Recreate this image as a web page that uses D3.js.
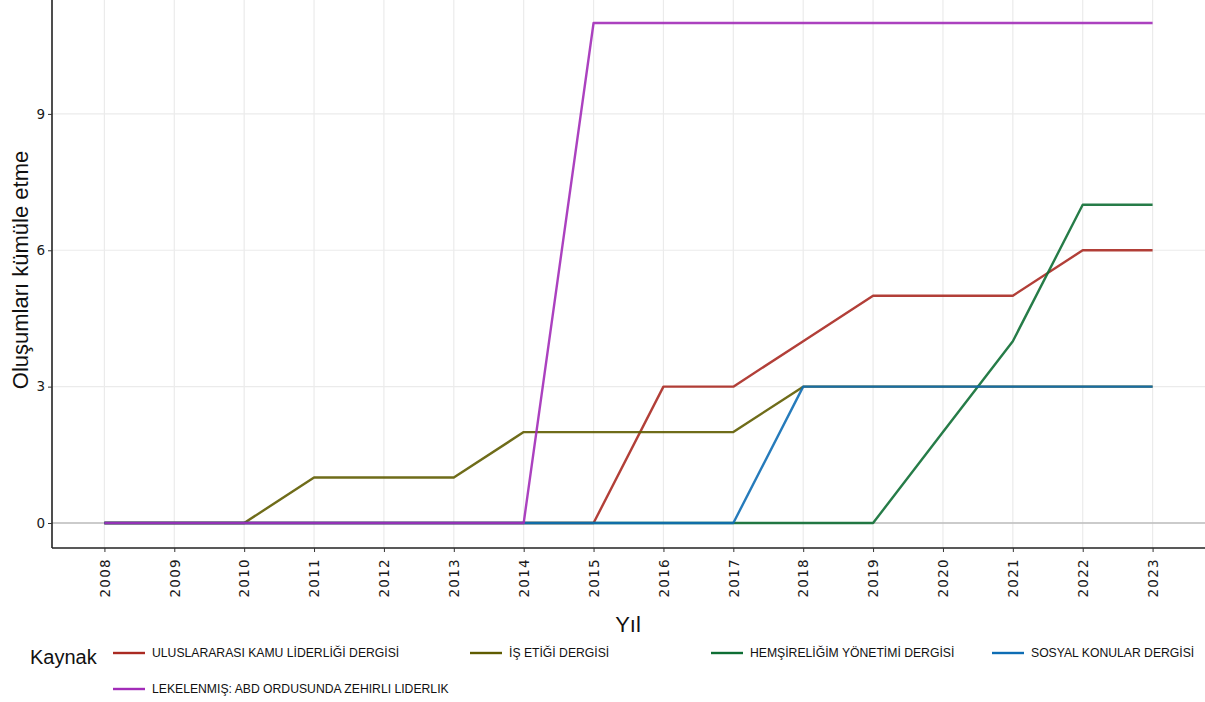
<!DOCTYPE html>
<html><head><meta charset="utf-8">
<script src="https://cdn.jsdelivr.net/npm/d3@7"></script>
<style>body{margin:0;background:#fff}svg{display:block}</style>
</head><body>
<svg id="c" width="1205" height="702"></svg>
<script>
const years = [2008,2009,2010,2011,2012,2013,2014,2015,2016,2017,2018,2019,2020,2021,2022,2023];
const seriesNames = [
  "ULUSLARARASI KAMU LİDERLİĞİ DERGİSİ",
  "İŞ ETİĞİ DERGİSİ",
  "HEMŞİRELİĞİM YÖNETİMİ DERGİSİ",
  "SOSYAL KONULAR DERGİSİ",
  "LEKELENMIŞ: ABD ORDUSUNDA ZEHIRLI LIDERLIK"
];
const uluslararasi = [0,0,0,0,0,0,0,0,3,3,4,5,5,5,6,6];
const isEtigi      = [0,0,0,1,1,1,2,2,2,2,3,3,3,3,3,3];
const hemsirelik   = [0,0,0,0,0,0,0,0,0,0,0,0,2,4,7,7];
const sosyal       = [0,0,0,0,0,0,0,0,0,0,3,3,3,3,3,3];
const lekelenmis   = [0,0,0,0,0,0,0,11,11,11,11,11,11,11,11,11];
const seriesValues = [uluslararasi, isEtigi, hemsirelik, sosyal, lekelenmis];
const colors = ["#aa2a22","#5f5c00","#0e6e34","#0e6db4","#a22cb8"];
const yTicks = [0,3,6,9];

const svg = d3.select("#c");
const L = 52, R = 1205, T = -2, B = 548;
const x = d3.scaleLinear().domain([2007.25, 2023.75]).range([L, R]);
const y = d3.scaleLinear().domain([-0.55, 11.55]).range([B, T]);

// grid
const g = svg.append("g");
g.selectAll(".vg").data(years).enter().append("line")
  .attr("x1", d=>x(d)).attr("x2", d=>x(d)).attr("y1", 0).attr("y2", B)
  .attr("stroke", "#ebebeb").attr("stroke-width", 1.2);
g.selectAll(".hg").data(yTicks).enter().append("line")
  .attr("x1", L).attr("x2", R).attr("y1", d=>y(d)).attr("y2", d=>y(d))
  .attr("stroke", "#ebebeb").attr("stroke-width", 1.2);
// zero reference line
g.append("line").attr("x1", L).attr("x2", R).attr("y1", y(0)).attr("y2", y(0))
  .attr("stroke", "#bdbdbd").attr("stroke-width", 1.6);

// lines
const line = d3.line().x((d,i)=>x(years[i])).y(d=>y(d));
seriesValues.forEach((vals, k) => {
  svg.append("path").datum(vals).attr("d", line)
    .attr("fill", "none").attr("stroke", colors[k]).attr("stroke-width", 2.4)
    .attr("stroke-opacity", 0.9).attr("stroke-linejoin", "round");
});

// axes
const xAxis = d3.axisBottom(x).tickValues(years).tickFormat(d3.format("d")).tickSize(4).tickSizeOuter(0);
const xa = svg.append("g").attr("transform", `translate(0,${B})`).call(xAxis);
xa.select(".domain").attr("stroke", "#222").attr("stroke-width", 1.6).attr("d", `M${L},0H${R}`);
xa.selectAll(".tick line").attr("stroke", "#333");
xa.selectAll(".tick text")
  .attr("font-family", "DejaVu Sans, sans-serif").attr("font-size", 13.5).attr("fill", "#1a1a1a")
  .attr("letter-spacing", "1.3px")
  .attr("transform", "rotate(-90)").attr("text-anchor", "end")
  .attr("dx", "-10px").attr("dy", "0.35em").attr("x", 0).attr("y", 0);

const yAxis = d3.axisLeft(y).tickValues(yTicks).tickSize(4).tickSizeOuter(0);
const ya = svg.append("g").attr("transform", `translate(${L},0)`).call(yAxis);
ya.select(".domain").attr("stroke", "#222").attr("stroke-width", 1.6).attr("d", `M0,0V${B}`);
ya.selectAll(".tick line").attr("stroke", "#333");
ya.selectAll(".tick text").attr("font-family", "DejaVu Sans, sans-serif").attr("font-size", 13.5).attr("fill", "#1a1a1a");

// titles
svg.append("text").attr("transform", `translate(28,${270}) rotate(-90)`).attr("text-anchor", "middle")
  .attr("font-family", "Liberation Sans, Arial, sans-serif").attr("font-size", 22).attr("fill", "#111")
  .text("Oluşumları kümüle etme");
svg.append("text").attr("x", 628).attr("y", 632).attr("text-anchor", "middle")
  .attr("font-family", "Liberation Sans, Arial, sans-serif").attr("font-size", 22).attr("fill", "#111")
  .text("Yıl");

// legend
svg.append("text").attr("x", 30).attr("y", 664)
  .attr("font-family", "Liberation Sans, Arial, sans-serif").attr("font-size", 20).attr("fill", "#111")
  .text("Kaynak");
const legPos = [[113,653],[470,653],[711,653],[992,653],[113,689]];
seriesNames.forEach((name, k) => {
  const [lx, ly] = legPos[k];
  svg.append("line").attr("x1", lx).attr("x2", lx+32).attr("y1", ly).attr("y2", ly)
    .attr("stroke", colors[k]).attr("stroke-width", 2.4);
  svg.append("text").attr("x", lx+39).attr("y", ly+4)
    .attr("font-family", "Liberation Sans, Arial, sans-serif").attr("font-size", 12.2).attr("fill", "#111")
    .text(name);
});
</script>
</body></html>
